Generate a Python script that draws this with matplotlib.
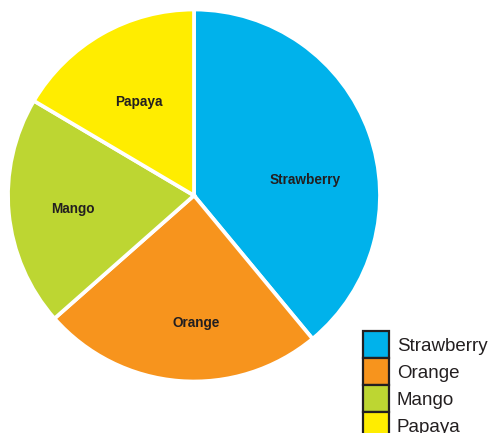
import matplotlib
matplotlib.use("Agg")
import matplotlib.pyplot as plt
from matplotlib.patches import Patch

categories = ["Strawberry", "Orange", "Mango", "Papaya"]
values = [39, 24.5, 20, 16.5]
colors = ["#00B2EB", "#F7941D", "#BDD632", "#FFED00"]

# label anchor points (pixels from the top-left of the canvas)
label_xy = [(305, 180), (196, 323), (73, 209), (139, 102)]

W, H = 490, 433
fig = plt.figure(figsize=(W / 100, H / 100), dpi=100)
ax = fig.add_axes([0, 0, 1, 1])

ax.pie(
    values,
    colors=colors,
    startangle=90,
    counterclock=False,
    center=(194, H - 195.5),
    radius=186,
    frame=True,
    wedgeprops=dict(edgecolor="white", linewidth=2.7),
)
ax.set_xlim(0, W)
ax.set_ylim(0, H)
ax.set_aspect("equal")
ax.axis("off")

label_font = ["Liberation Sans", "DejaVu Sans"]
for name, (x, y) in zip(categories, label_xy):
    ax.text(x, H - y, name, ha="center", va="center", fontsize=9.8,
            fontweight="bold", color="#231F20", family=label_font)

handles = [Patch(facecolor=c, edgecolor="#231F20", linewidth=1.6) for c in colors]
fig.legend(
    handles, categories,
    loc="upper left",
    bbox_to_anchor=(363 / W, 1 - 331 / H),
    frameon=False,
    borderpad=0,
    borderaxespad=0,
    labelspacing=0,
    handlelength=1.4,
    handleheight=1.85,
    handletextpad=0.4,
    prop=dict(family=label_font, size=13.5),
    labelcolor="#231F20",
)

fig.savefig("out.png", dpi=100)
